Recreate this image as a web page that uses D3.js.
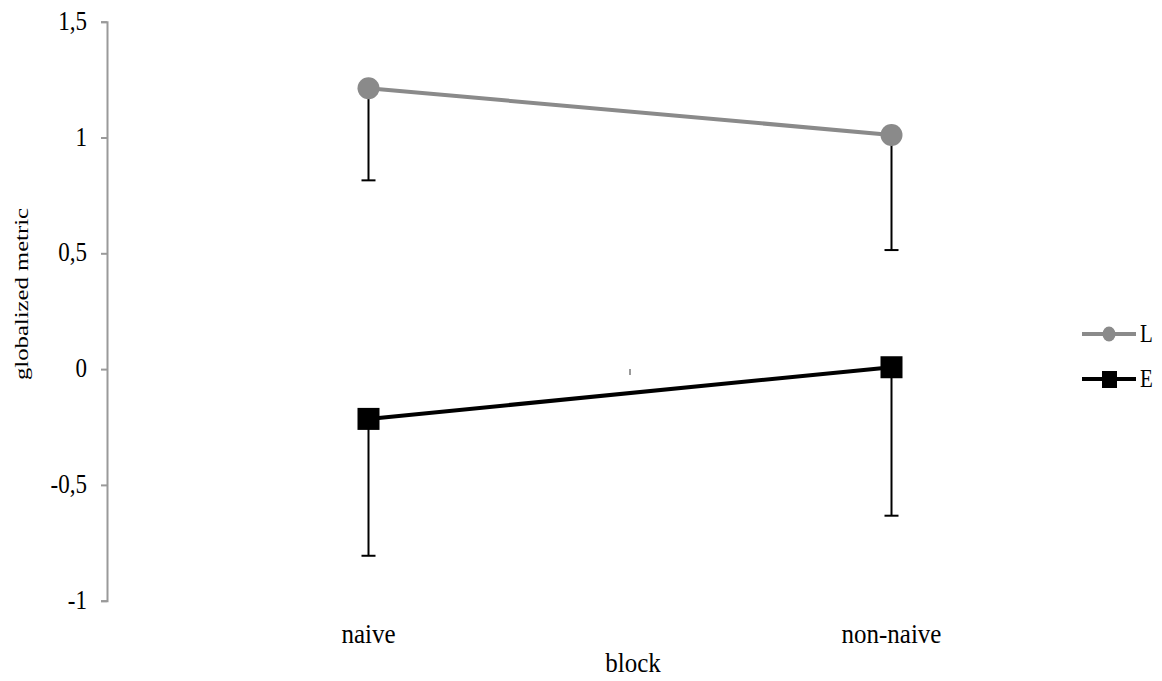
<!DOCTYPE html>
<html>
<head>
<meta charset="utf-8">
<script src="https://cdn.jsdelivr.net/npm/d3@7"></script>
<style>
  html, body { margin: 0; padding: 0; background: #fff; }
  svg { display: block; }
</style>
</head>
<body>
<svg id="chart" width="1162" height="681"></svg>
<script>
// Categories on the horizontal axis
const blocks = ["naive", "non-naive"];

// Mean of the globalized metric per block, with lower error extent
const seriesNames = ["L", "E"];
const meanL = [1.213, 1.011];
const lowL = [0.815, 0.514];
const meanE = [-0.215, 0.008];
const lowE = [-0.806, -0.633];

// Value axis ticks and labels
const yTicks = [1.5, 1, 0.5, 0, -0.5, -1];
const yTickLabels = ["1,5", "1", "0,5", "0", "-0,5", "-1"];

const FONT = "Liberation Serif, Times New Roman, DejaVu Serif, serif";

const series = [
  { name: seriesNames[0], mean: meanL, low: lowL, color: "#8a8a8a", shape: "circle" },
  { name: seriesNames[1], mean: meanE, low: lowE, color: "#000000", shape: "square" }
];

const svg = d3.select("#chart");

const plotLeft = 107, plotRight = 1153, plotTop = 21.7, plotBottom = 600.7;

const x = d3.scaleBand().domain(blocks).range([plotLeft, plotRight]).padding(0);
const cx = d => x(d) + x.bandwidth() / 2;
const y = d3.scaleLinear().domain([-1, 1.5]).range([plotBottom, plotTop]);

// Places a text at (px, py), drawn slightly taller than wide; rotation optional
function label(parent, px, py, txt, size, anchor, rotate, stretch) {
  const g = parent.append("g")
    .attr("transform", rotate
      ? `translate(${px},${py}) rotate(-90) scale(${stretch},1)`
      : `translate(${px},${py}) scale(1,${stretch})`);
  g.append("text")
    .attr("text-anchor", anchor)
    .attr("font-family", FONT)
    .attr("font-size", size)
    .attr("fill", "#000")
    .text(txt);
  return g;
}

// Vertical value axis
const yAxis = d3.axisLeft(y)
  .tickValues(yTicks)
  .tickFormat("")
  .tickSize(6);

const yg = svg.append("g")
  .attr("transform", `translate(${plotLeft},0)`)
  .call(yAxis);
yg.select(".domain").attr("stroke", "#9a9a9a").attr("stroke-width", 2);
yg.selectAll(".tick line").attr("stroke", "#9a9a9a").attr("stroke-width", 2);

yTicks.forEach((t, i) => {
  label(svg, 87, y(t) + 8, yTickLabels[i], 23, "end", false, 1.15);
});

// Horizontal category axis crosses at zero; only its interior tick mark is visible
svg.append("line")
  .attr("x1", x(blocks[1])).attr("x2", x(blocks[1]))
  .attr("y1", y(0)).attr("y2", y(0) + 6)
  .attr("stroke", "#9a9a9a").attr("stroke-width", 2);

// Category labels
blocks.forEach(b => label(svg, cx(b), 643, b, 25, "middle", false, 1.12));

// Axis titles
label(svg, 633, 672, "block", 25, "middle", false, 1.1);
label(svg, 28, 294, "globalized metric", 19, "middle", true, 1.3);

// Lower error bars
series.forEach(s => {
  const g = svg.append("g");
  blocks.forEach((b, i) => {
    g.append("line")
      .attr("x1", cx(b)).attr("x2", cx(b))
      .attr("y1", y(s.mean[i])).attr("y2", y(s.low[i]))
      .attr("stroke", "#000").attr("stroke-width", 2);
    g.append("line")
      .attr("x1", cx(b) - 7).attr("x2", cx(b) + 7)
      .attr("y1", y(s.low[i])).attr("y2", y(s.low[i]))
      .attr("stroke", "#000").attr("stroke-width", 2);
  });
});

// Series lines and markers
const line = d3.line().x((d, i) => cx(blocks[i])).y(d => y(d));
series.forEach(s => {
  svg.append("path")
    .datum(s.mean)
    .attr("d", line)
    .attr("fill", "none")
    .attr("stroke", s.color)
    .attr("stroke-width", 4);
  const g = svg.append("g");
  s.mean.forEach((v, i) => {
    if (s.shape === "circle") {
      g.append("circle")
        .attr("cx", cx(blocks[i])).attr("cy", y(v)).attr("r", 11)
        .attr("fill", s.color);
    } else {
      g.append("rect")
        .attr("x", cx(blocks[i]) - 11).attr("y", y(v) - 11)
        .attr("width", 22).attr("height", 22)
        .attr("fill", s.color);
    }
  });
});

// Legend
const legend = svg.append("g");
series.forEach((s, i) => {
  const ly = 334 + i * 45;
  legend.append("line")
    .attr("x1", 1082).attr("x2", 1136)
    .attr("y1", ly).attr("y2", ly)
    .attr("stroke", s.color).attr("stroke-width", 4);
  if (s.shape === "circle") {
    legend.append("ellipse")
      .attr("cx", 1109).attr("cy", ly).attr("rx", 6.5).attr("ry", 7.5)
      .attr("fill", s.color);
  } else {
    legend.append("rect")
      .attr("x", 1102).attr("y", ly - 8).attr("width", 15).attr("height", 17)
      .attr("fill", s.color);
  }
  label(legend, 1140, ly + 8, s.name, 21, "start", false, 1.15);
});
</script>
</body>
</html>
